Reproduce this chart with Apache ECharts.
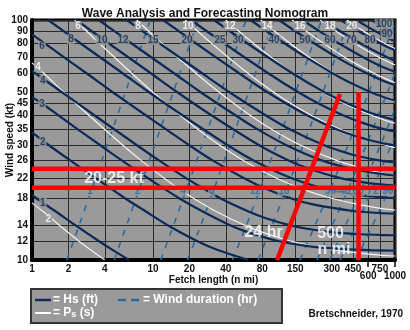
<!DOCTYPE html>
<html><head><meta charset="utf-8">
<script src="https://cdn.jsdelivr.net/npm/echarts@6/dist/echarts.min.js"></script>
<style>html,body{margin:0;padding:0;background:#fff}#c{width:410px;height:330px}</style>
</head><body><div id="c"></div>
<script>
// ---- axis ticks ----
const xTicks = [1, 2, 4, 10, 20, 40, 80, 150, 300, 450, 600, 750, 1000];
const xLabelsUpper = [1, 2, 4, 10, 20, 40, 80, 150, 300, 450, 750];
const xLabelsLower = [600, 1000];
const yTicks = [10, 12, 14, 18, 22, 26, 30, 35, 40, 45, 50, 60, 70, 80, 90, 100];

// ---- Significant wave height curves Hs (ft): points [fetch n mi, wind kt] ----
const hsValues = [1, 2, 3, 4, 6, 8, 10, 12, 15, 20, 25, 30, 40, 50, 60, 70, 80, 90, 100];
const hsCurves = [
  [[1,18.7],[1.10,18],[1.55,16],[2.26,14],[3.56,12],[4.66,11],[6.36,10]],
  [[1,34],[1.39,30],[2.07,26],[3.33,22],[4.40,20],[5.95,18],[8.61,16],[13.1,14],[23.1,12],[34.3,11],[61.2,10]],
  [[1,47.7],[1.20,45],[1.66,40],[2.39,35],[3.69,30],[5.52,26],[9.01,22],[12.0,20],[16.7,18],[25.3,16],[42.8,14],[62.4,13],[108,12],[173,11.5],[280,11.2],[608,11],[1000,10.95]],
  [[1,61.4],[1.77,50],[3.30,40],[7.42,30],[11.2,26],[18.6,22],[25.5,20],[36.6,18],[60.3,16],[83.4,15],[132,14],[187,13.5],[331,13],[526,12.8],[820,12.7],[1000,12.68]],
  [[1,87.1],[1.27,80],[1.83,70],[2.82,60],[4.65,50],[8.77,40],[20.1,30],[31.1,26],[55.6,22],[81.9,20],[141,18],[214,17],[453,16],[733,15.7],[1000,15.6]],
  [[1.36,100],[2.51,80],[5.61,60],[9.28,50],[17.6,40],[41.8,30],[67.8,26],[137,22],[244,20],[394,19],[585,18.5],[861,18.2],[1000,18.1]],
  [[2.32,100],[4.29,80],[9.6,60],[15.9,50],[30.6,40],[76,30],[132,26],[195,24],[347,22],[573,21],[880,20.5],[1000,20.4]],
  [[3.56,100],[6.62,80],[14.9,60],[24.8,50],[48.3,40],[73.4,35],[128,30],[248,26],[433,24],[691,23],[916,22.6],[1000,22.5]],
  [[6.07,100],[11.3,80],[25.5,60],[42.9,50],[85.8,40],[136,35],[263,30],[392,28],[514,27],[742,26],[919,25.6],[1000,25.5]],
  [[12.1,100],[22.6,80],[51.5,60],[88.4,50],[189,40],[332,35],[561,32],[719,31],[1000,30]],
  [[20.6,100],[38.6,80],[89.6,60],[159,50],[231,45],[376,40],[563,37],[825,35],[1000,34.3]],
  [[31.9,100],[60,80],[142,60],[261,50],[401,45],[555,42],[737,40],[872,39],[1000,38.3]],
  [[63.8,100],[122,80],[183,70],[306,60],[420,55],[632,50],[781,48],[940,46.5],[1000,46]],
  [[110,100],[149,90],[214,80],[329,70],[427,65],[583,60],[786,56],[946,54],[1000,53.6]],
  [[172,100],[236,90],[342,80],[545,70],[728,65],[898,62],[1000,60.8]],
  [[253,100],[350,90],[518,80],[654,75],[863,70],[1000,67.7]],
  [[355,100],[497,90],[605,85],[754,80],[921,76],[1000,74.8]],
  [[481,100],[568,95],[684,90],[842,85],[1000,81.5]],
  [[636,100],[758,95],[920,90],[1000,88]]
];
const hsLabels = [
  [1.21,78,'6'],[1.23,55.7,'4'],[1.21,44.7,'3'],[1.23,31,'2'],[1.23,17.3,'1'],
  [2.10,83.3,'8'],[3.79,82.5,'10'],[5.66,82.5,'12'],[10,82.5,'15'],[19.1,82.5,'20'],
  [35.8,82.5,'25'],[50.5,82.5,'30'],[100,82.5,'40'],[180,82.5,'50'],[290,82.5,'60'],
  [432,82.5,'70'],[622,82.5,'80'],[859,87.3,'90'],[811,96.2,'100']
];

// ---- Significant wave period curves Ps (s) ----
const psValues = [2, 4, 6, 8, 10, 12, 14, 16, 18, 20];
const psCurves = [
  [[1,17.3],[1.22,16],[1.67,14],[2.43,12],[3.99,10]],
  [[1,66.3],[1.25,60],[1.83,50],[2.96,40],[5.66,30],[7.96,26],[12.2,22],[15.9,20],[21.9,18],[32.7,16],[56.4,14],[82,13],[137,12],[318,11],[717,10.5],[939,10.4],[1000,10.39]],
  [[2.26,100],[3.60,80],[6.67,60],[9.97,50],[16.9,40],[23.6,35],[35.9,30],[55.7,26],[103,22],[161,20],[214,19],[309,18],[506,17],[715,16.5],[930,16.2],[1000,16.15]],
  [[7.33,100],[11.8,80],[22.6,60],[35.2,50],[63.8,40],[96,35],[168,30],[328,26],[549,24],[782,23],[974,22.5],[1000,22.45]],
  [[18.5,100],[30.4,80],[60.9,60],[99.6,50],[137,45],[204,40],[352,35],[562,32],[857,30],[980,29.5],[1000,29.4]],
  [[39.9,100],[67.4,80],[94.5,70],[143.5,60],[254,50],[377,45],[644,40],[858,38],[948,37.4],[1000,37.2]],
  [[77.6,100],[135.5,80],[195,70],[314,60],[427,55],[630,50],[847,47],[947,46],[1000,45.6]],
  [[141,100],[184,90],[255,80],[384,70],[495,65],[670,60],[833,57],[981,55],[1000,54.8]],
  [[241,100],[323,90],[462,80],[573,75],[735,70],[874,67],[961,65.5],[1000,65]],
  [[399,100],[548,90],[661,85],[817,80],[943,77],[1000,76]]
];
const psLabels = [
  [1.12,63.7,'4'],[1.36,14.8,'2'],[2.40,94.4,'6'],[7.53,94.4,'8'],[19.5,94.4,'10'],
  [43.3,94.4,'12'],[87.5,94.4,'14'],[164,94.4,'16'],[290,94.4,'18'],[440,94.4,'20']
];

// ---- Wind duration curves (hr) ----
const durValues = [1, 2, 4, 6, 12, 18, 36, 48, 60, 72, 96];
const durCurves = [
  [[1.94,10],[2.46,14],[3.15,20],[4.17,30],[5.92,50],[7.45,70],[9.5,100]],
  [[4.78,10],[6.06,14],[7.78,20],[10.3,30],[14.7,50],[18.5,70],[23.7,100]],
  [[11.6,10],[14.8,14],[19.1,20],[25.4,30],[36.4,50],[45.9,70],[58.8,100]],
  [[19.3,10],[24.9,14],[32.2,20],[43.0,30],[61.7,50],[78.0,70],[100,100]],
  [[45.4,10],[59.3,14],[77.3,20],[104.7,30],[151,50],[192,70],[247,100]],
  [[73.9,10],[96.6,14],[128.5,20],[174,30],[254,50],[323,70],[417,100]],
  [[164,10],[219,14],[296,20],[408,30],[608,50],[781,70],[980,95],[1016,100]],
  [[227,10],[304,14],[414,20],[578,30],[726,40],[868,50],[999,60]],
  [[289,10],[392,14],[533,20],[756,30],[950,40],[987,42]],
  [[352,10],[481,14],[655,20],[823,26],[930,30],[984,32]],
  [[479,10],[566,12],[654,14],[909,20],[946,21],[986,22]]
];
const durLabels = [
  [3.02,19.4,'1'],[7.5,19.4,'2'],[17.7,19.4,'4'],[30.6,19.4,'6'],[69.6,19.4,'12'],
  [121,19.4,'18'],[337,19.4,'36-48'],[496,19.4,'60'],[657,19.4,'72'],[872,19.4,'96']
];

// ---- Example (red) ----
const redWind20 = [[1,20],[1000,20]];
const redWind25 = [[1,24],[1000,24]];
const redFetch500 = [[500,10],[500,50.1]];
const red24hr = [[106,10],[351,49.2]];
const bigLabels = [[4.76,21.86,'20-25 kt'],[81.9,12.99,'24 hr'],[293,12.83,'500'],[313,11.0,'n mi']];

const GRAY = '#9a9a9a', NAVY = '#0c2a58', BLUE = '#2a6a9c', WHITE = '#f2f2f2', RED = '#ff0000';
const FONT = 'Liberation Sans, Arial, sans-serif';

const series = [];
durCurves.forEach(d => series.push({type:'line', data:d, symbol:'none', smooth:0.3, silent:true, z:3,
  lineStyle:{color:BLUE, width:1.6, type:[6,7]}}));
psCurves.forEach(d => series.push({type:'line', data:d, symbol:'none', smooth:0.3, silent:true, z:4,
  lineStyle:{color:WHITE, width:1.2}}));
hsCurves.forEach(d => series.push({type:'line', data:d, symbol:'none', smooth:0.3, silent:true, z:5,
  lineStyle:{color:NAVY, width:2.2}}));

function labelSeries(list, color, size, bg, z) {
  return {type:'scatter', z:z, silent:true, symbol:'circle', symbolSize:1,
    itemStyle:{color:'rgba(0,0,0,0)'},
    data:list.map(p => ({value:[p[0],p[1]], name:p[2]})),
    label:{show:true, position:'inside', formatter:'{b}', color:color, fontSize:size,
      fontWeight:'bold', fontFamily:FONT, backgroundColor:bg, padding:[0,1]}};
}
series.push(labelSeries(durLabels, BLUE, 10, GRAY, 6));
series.push(labelSeries(psLabels, '#ffffff', 10, GRAY, 6));
series.push(labelSeries(hsLabels, NAVY, 10, GRAY, 7));

[redWind20, redWind25, redFetch500, red24hr].forEach(d => series.push({type:'line', data:d, symbol:'none',
  silent:true, z:8, lineStyle:{color:RED, width:4.5}}));
series.push({type:'scatter', z:9, silent:true, symbolSize:1, itemStyle:{color:'rgba(0,0,0,0)'},
  data:bigLabels.map(p => ({value:[p[0],p[1]], name:p[2]})),
  label:{show:true, position:'inside', formatter:'{b}', color:'#ffffff', fontSize:16, fontWeight:'bold', fontFamily:FONT}});

const labelStyle = {fontSize:10, fontWeight:'bold', color:'#111', fontFamily:FONT,
  showMinLabel:true, showMaxLabel:true, hideOverlap:false, formatter:v => String(Math.round(v))};

const chart = echarts.init(document.getElementById('c'), null, {renderer:'canvas'});
chart.setOption({
  animation:false,
  title:{text:'Wave Analysis and Forecasting Nomogram', left:'center', top:3,
    textStyle:{fontSize:12, fontWeight:'bold', color:'#111', fontFamily:FONT}},
  grid:{left:32, right:15, top:20, bottom:70, containLabel:false, outerBoundsMode:'none',
    show:true, backgroundColor:GRAY, borderColor:'#000', borderWidth:3},
  xAxis:[{type:'log', logBase:10, min:1, max:1000,
    name:'Fetch length (n mi)', nameLocation:'middle', nameGap:15, nameMoveOverlap:false,
    nameTextStyle:{fontSize:10, fontWeight:'bold', color:'#111', fontFamily:FONT},
    axisLine:{show:true, lineStyle:{color:'#000', width:4}},
    axisTick:{show:false, customValues:xTicks},
    axisLabel:Object.assign({customValues:xLabelsUpper, margin:4}, labelStyle),
    splitLine:{show:true, lineStyle:{color:'#2a2a2a', width:1}}},
   {type:'log', logBase:10, min:1, max:1000, position:'bottom', axisLine:{show:false},
    nameMoveOverlap:false,
    axisLabel:Object.assign({customValues:xLabelsLower, margin:11}, labelStyle),
    splitLine:{show:false}, axisTick:{show:true, customValues:xLabelsLower, length:7, lineStyle:{color:'#000', width:1.5}}}],
  yAxis:{type:'log', logBase:10, min:10, max:100,
    name:'Wind speed (kt)', nameLocation:'middle', nameGap:17, nameRotate:90, nameMoveOverlap:false,
    nameTextStyle:{fontSize:10, fontWeight:'bold', color:'#111', fontFamily:FONT},
    axisLine:{show:true, lineStyle:{color:'#000', width:4}},
    axisTick:{show:false, customValues:yTicks},
    axisLabel:Object.assign({customValues:yTicks, margin:4}, labelStyle),
    splitLine:{show:true, lineStyle:{color:'#2a2a2a', width:1}}},
  graphic:[
    {type:'rect', shape:{x:31, y:289, width:251, height:34}, style:{fill:GRAY, stroke:'#333', lineWidth:2}, z:10},
    {type:'line', shape:{x1:35, y1:300, x2:51, y2:300}, style:{stroke:NAVY, lineWidth:2.5}, z:11},
    {type:'text', x:53, y:300, style:{text:'= Hs (ft)', fill:'#fff', font:'bold 12px Liberation Sans, Arial', textVerticalAlign:'middle'}, z:11},
    {type:'line', shape:{x1:118, y1:300, x2:141, y2:300}, style:{stroke:BLUE, lineWidth:2.5, lineDash:[8,5]}, z:11},
    {type:'text', x:143, y:300, style:{text:'= Wind duration (hr)', fill:'#fff', font:'bold 12px Liberation Sans, Arial', textVerticalAlign:'middle'}, z:11},
    {type:'line', shape:{x1:35, y1:313, x2:51, y2:313}, style:{stroke:'#fff', lineWidth:2}, z:11},
    {type:'text', x:53, y:313, style:{rich:{a:{fill:'#fff', font:'bold 12px Liberation Sans, Arial'}, s:{fill:'#fff', font:'bold 9px Liberation Sans, Arial', padding:[4,0,0,0]}},
      text:'{a|= P}{s|s}{a| (s)}', textVerticalAlign:'middle'}, z:11},
    {type:'text', right:7, y:314, style:{text:'Bretschneider, 1970', fill:'#111', font:'bold 10px Liberation Sans, Arial', textVerticalAlign:'middle'}, z:11}
  ],
  series:series
});
</script></body></html>
